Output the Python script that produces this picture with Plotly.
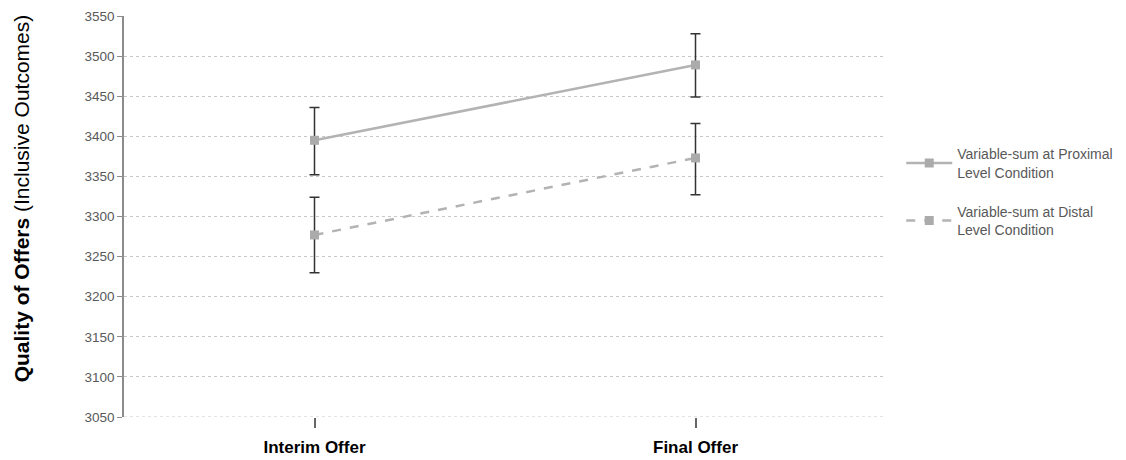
import plotly.graph_objects as go

categories = ["Interim Offer", "Final Offer"]
proximal = [3395, 3489]
proximal_hi = [3436, 3528]
proximal_lo = [3352, 3449]
distal = [3277, 3373]
distal_hi = [3324, 3416]
distal_lo = [3230, 3327]
yticks = list(range(3050, 3551, 50))

def errs(v, hi, lo):
    return [h - x for h, x in zip(hi, v)], [x - l for x, l in zip(v, lo)]

fig = go.Figure()
pu, pd = errs(proximal, proximal_hi, proximal_lo)
du, dd = errs(distal, distal_hi, distal_lo)
fig.add_trace(go.Scatter(
    x=categories, y=proximal, mode="lines+markers", legendgroup="a",
    name="Variable-sum at Proximal<br>Level Condition",
    line=dict(color="#b3b3b3", width=2.5),
    marker=dict(symbol="square", size=9, color="#ababab"),
    error_y=dict(type="data", symmetric=False, array=pu, arrayminus=pd,
                 color="#333333", thickness=1.5, width=5),
))
fig.add_trace(go.Scatter(
    x=categories, y=distal, mode="lines+markers", legendgroup="b",
    name="Variable-sum at Distal<br>Level Condition",
    line=dict(color="#b3b3b3", width=2.5, dash="dash"),
    marker=dict(symbol="square", size=9, color="#ababab"),
    error_y=dict(type="data", symmetric=False, array=du, arrayminus=dd,
                 color="#333333", thickness=1.5, width=5),
))

fig.update_layout(
    width=1118, height=452,
    margin=dict(l=116, r=240, t=8, b=43, autoexpand=False),
    paper_bgcolor="white", plot_bgcolor="white",
    font=dict(family="Liberation Sans, Arial, sans-serif", color="#595959", size=12),
    showlegend=True,
    legend=dict(x=1.02, y=0.695, xanchor="left", yanchor="top",
                font=dict(size=14, color="#595959"), tracegroupgap=18,
                itemwidth=46, bgcolor="rgba(0,0,0,0)"),
    xaxis=dict(type="category", range=[-0.5, 1.5], showgrid=False,
               showline=False, ticks="outside", ticklen=10, tickcolor="#666666",
               tickwidth=1.5, ticklabelstandoff=5,
               tickfont=dict(size=17, color="#000000", weight="bold",
                             family="Liberation Sans, Arial, sans-serif"),
               tickson="labels"),
    yaxis=dict(range=[3050, 3550], tickvals=yticks, showgrid=True,
               gridcolor="#c8c8c8", griddash="dot", gridwidth=1,
               showline=True, linecolor="#8c8c8c", linewidth=1.5,
               ticks="outside", ticklen=5, tickcolor="#8c8c8c",
               tickfont=dict(size=13.5, color="#595959"), zeroline=False),
    shapes=[dict(type="line", xref="paper", yref="y", x0=0, x1=1,
                 y0=yticks[0], y1=yticks[0],
                 line=dict(color="#c8c8c8", width=1, dash="dot"), layer="below")],
    annotations=[dict(
        text="<b>Quality of Offers</b> (Inclusive Outcomes)",
        textangle=-90, xref="paper", yref="paper", x=-0.134, y=0.545,
        xanchor="center", yanchor="middle", showarrow=False,
        font=dict(size=21, color="#000000", family="Liberation Sans, Arial, sans-serif"),
    )],
)

fig.write_html("out.html")
